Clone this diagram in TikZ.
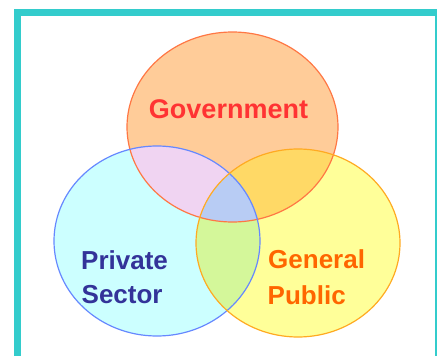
\documentclass[tikz,border=0pt]{standalone}
\usepackage{fontspec}
\setmainfont{Liberation Sans}
\definecolor{frameteal}{HTML}{33CCCC}
\definecolor{govfill}{HTML}{FFCC99}
\definecolor{privfill}{HTML}{CCFFFF}
\definecolor{pubfill}{HTML}{FFFF99}
\definecolor{gpfill}{HTML}{F0D4F2}
\definecolor{gufill}{HTML}{FFD966}
\definecolor{pufill}{HTML}{D4F79A}
\definecolor{allfill}{HTML}{B8CCF4}
\definecolor{govline}{HTML}{FF7744}
\definecolor{privline}{HTML}{6688FF}
\definecolor{publine}{HTML}{FFAA22}
\definecolor{govtext}{HTML}{FF3333}
\definecolor{privtext}{HTML}{333399}
\definecolor{pubtext}{HTML}{FF6600}
\begin{document}
\begin{tikzpicture}[x=1pt,y=-1pt,
  label/.style={inner sep=0pt, font=\fontsize{26}{30}\selectfont\bfseries},
  ring/.style={line width=1.2pt}]
\useasboundingbox (0,0) rectangle (437,356);
\def\govpath{(232.5,127) ellipse [x radius=105.5pt, y radius=95pt]}
\def\privpath{(157,241) ellipse [x radius=103pt, y radius=95pt]}
\def\pubpath{(298,243) ellipse [x radius=102pt, y radius=94pt]}
% frame
\draw[frameteal, line width=7pt] (17.5,370) -- (17.5,12.5) -- (438.5,12.5) -- (438.5,370);
% fills
\fill[govfill] \govpath;
\fill[privfill] \privpath;
\fill[pubfill] \pubpath;
\begin{scope}\clip \govpath; \fill[gpfill] \privpath;\end{scope}
\begin{scope}\clip \govpath; \fill[gufill] \pubpath;\end{scope}
\begin{scope}\clip \privpath; \fill[pufill] \pubpath;\end{scope}
\begin{scope}\clip \govpath; \clip \privpath; \fill[allfill] \pubpath;\end{scope}
% outlines
\draw[ring, govline] \govpath;
\draw[ring, privline] \privpath;
\draw[ring, publine] \pubpath;
% labels
\node[label, anchor=base, text=govtext, font=\fontsize{27}{30}\selectfont\bfseries] (govtxt) at (228.5,118) {Government};
\node[label, anchor=base west, text=privtext] (privtxta) at (81,269) {Private};
\node[label, anchor=base west, text=privtext] (privtxtb) at (81.5,303) {Sector};
\node[label, anchor=base west, text=pubtext] (pubtxta) at (268,268) {General};
\node[label, anchor=base west, text=pubtext] (pubtxtb) at (267.5,304) {Public};
\end{tikzpicture}
\end{document}
